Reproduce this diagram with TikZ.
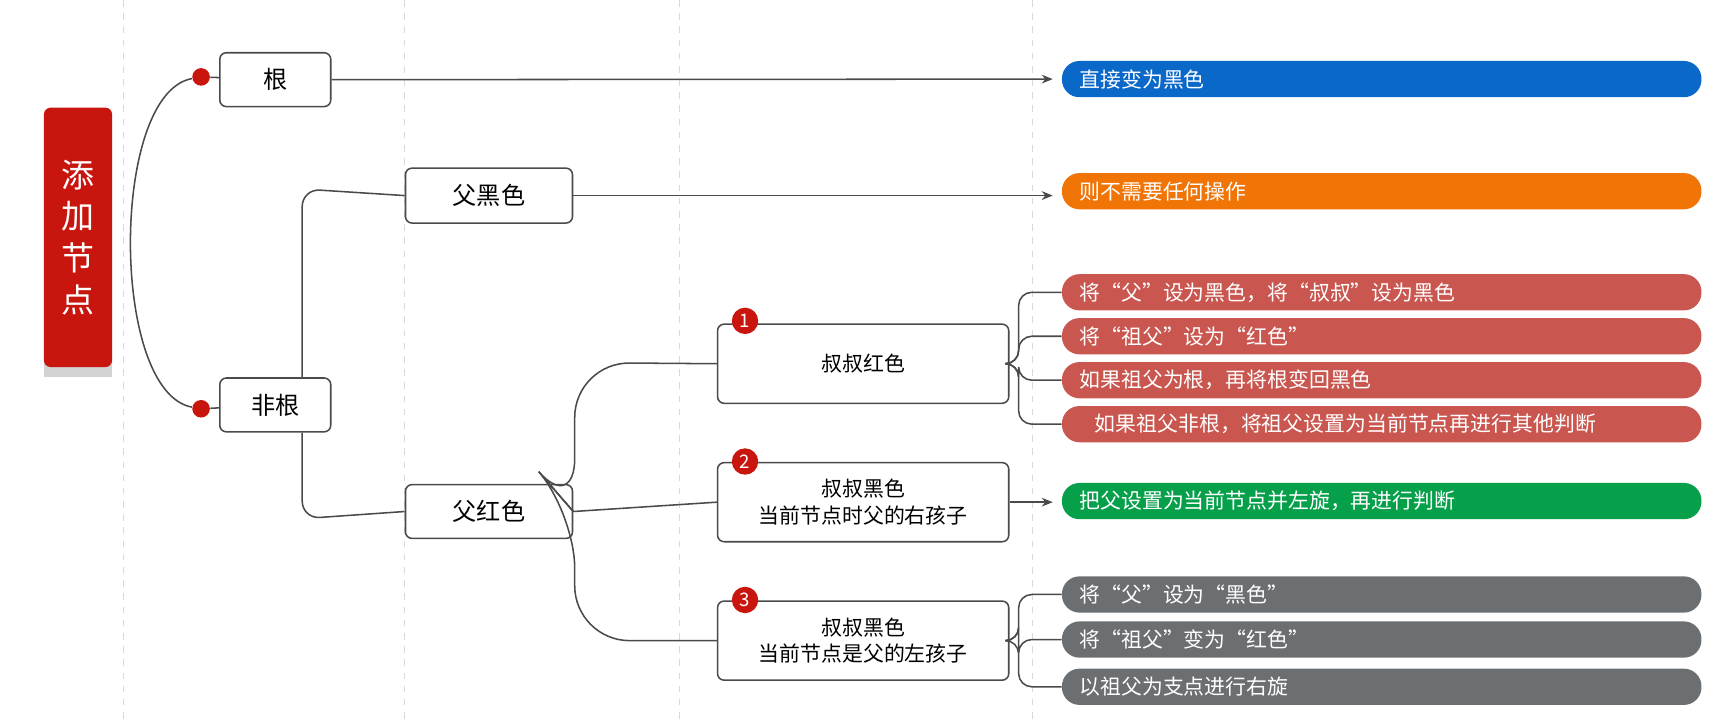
\documentclass[tikz,border=0pt]{standalone}
\usepackage{fontspec}
\setmainfont{Noto Sans CJK SC}
\usetikzlibrary{arrows.meta}
\definecolor{cred}{HTML}{C8160E}
\definecolor{pred}{HTML}{C9574F}
\definecolor{pgray}{HTML}{6B6F72}
\definecolor{pblue}{HTML}{0A68C8}
\definecolor{porange}{HTML}{F07406}
\definecolor{pgreen}{HTML}{06A04A}
\definecolor{lnc}{HTML}{4A4A4A}
\tikzset{
 box/.style={draw=lnc, line width=0.7pt, rounded corners=3pt, fill=white, align=center, inner sep=0pt},
 pill/.style={anchor=west, fill=#1, text=white, rounded corners=8pt, minimum width=291pt, minimum height=16.5pt, text width=275pt, align=left, inner sep=0pt, inner xsep=8pt, font=\fontsize{9.5}{11}\selectfont},
 ln/.style={draw=lnc, line width=0.7pt},
 arr/.style={ln, -{Stealth[length=5pt,width=4pt]}},
 badge/.style={circle, fill=cred, text=white, minimum size=12pt, inner sep=0pt, font=\fontsize{8.5}{9}\selectfont},
 dot/.style={circle, fill=cred, minimum size=8pt, inner sep=0pt},
}
\begin{document}
\begin{tikzpicture}[x=0.5pt,y=-0.5pt]
\useasboundingbox (0,0) rectangle (1568,657);
\foreach \x in {112,368,618,940}
  \draw[gray!30, dashed, line width=0.4pt] (\x,0) -- (\x,657);
% root
\fill[gray!35] (40,104) rectangle (102,343);
\node[fill=cred, rounded corners=3pt, minimum width=31pt, minimum height=118pt, text=white, font=\fontsize{15}{19}\selectfont, align=center, inner sep=0pt] (main) at (71,216) {添\\加\\节\\点};
\node[dot] (d1) at (183,70) {};
\node[dot] (d2) at (183,372) {};
\draw[ln] (d1) .. controls (100,85) and (100,357) .. (d2);
\node[box, minimum width=50.5pt, minimum height=24.5pt, font=\fontsize{11}{13}\selectfont] (gen) at (250.5,72.5) {根};
\node[box, minimum width=50.5pt, minimum height=24.5pt, font=\fontsize{11}{13}\selectfont] (fg) at (250.5,368.5) {非根};
\draw[ln] (d1) -- (gen); \draw[ln] (d2) -- (fg);
\node[pill=pblue] (p0) at (966,72) {直接变为黑色};
\draw[arr] (gen.east) -- ([xshift=-4pt]p0.west);
\node[box, minimum width=76pt, minimum height=25pt, font=\fontsize{11}{13}\selectfont] (fh) at (445,178) {父黑色};
\node[box, minimum width=76pt, minimum height=24.5pt, font=\fontsize{11}{13}\selectfont] (fr) at (445,465.5) {父红色};
\draw[ln, rounded corners=8pt] (fg.north -| 275,0) -- (275,172) -- (fh.west);
\draw[ln, rounded corners=8pt] (fg.south -| 275,0) -- (275,472) -- (fr.west);
\node[pill=porange] (p1) at (966,174) {则不需要任何操作};
\draw[arr] (fh.east) -- ([xshift=-4pt]p1.west|-fh.east);
% level 3
\node[box, minimum width=132.5pt, minimum height=36pt, font=\fontsize{9.5}{12}\selectfont] (b1) at (785.5,331) {叔叔红色};
\node[box, minimum width=132.5pt, minimum height=36pt, font=\fontsize{9.5}{12}\selectfont] (b2) at (785.5,457) {叔叔黑色\\当前节点时父的右孩子};
\node[box, minimum width=132.5pt, minimum height=36pt, font=\fontsize{9.5}{12}\selectfont] (b3) at (785.5,583) {叔叔黑色\\当前节点是父的左孩子};
\node[badge] at (678,292) {1};
\node[badge] at (678,420) {2};
\node[badge] at (678,546) {3};
\draw[ln] (fr.east) -- (b2.west);
\draw[ln, rounded corners=25pt] (fr.east) -- (523,467) -- (523,330) -- (b1.west);
\draw[ln, rounded corners=25pt] (fr.east) -- (523,467) -- (523,583) -- (b3.west);
% pills
\node[pill=pred] (r1) at (966,266) {将“父”设为黑色，将“叔叔”设为黑色};
\node[pill=pred] (r2) at (966,306) {将“祖父”设为“红色”};
\node[pill=pred] (r3) at (966,346) {如果祖父为根，再将根变回黑色};
\node[pill=pred] (r4) at (966,386) {\hspace*{7pt}如果祖父非根，将祖父设置为当前节点再进行其他判断};
\foreach \r in {r1,r2,r3,r4}
  \draw[ln, rounded corners=6pt] (b1.east) -- (927,331) |- (\r.west);
\node[pill=pgreen] (g1) at (966,456) {把父设置为当前节点并左旋，再进行判断};
\draw[arr] (b2.east) -- ([xshift=-4pt]g1.west|-b2.east);
\node[pill=pgray] (k1) at (966,541) {将“父”设为“黑色”};
\node[pill=pgray] (k2) at (966,582) {将“祖父”变为“红色”};
\node[pill=pgray] (k3) at (966,625) {以祖父为支点进行右旋};
\foreach \r in {k1,k2,k3}
  \draw[ln, rounded corners=6pt] (b3.east) -- (927,583) |- (\r.west);
\end{tikzpicture}
\end{document}
